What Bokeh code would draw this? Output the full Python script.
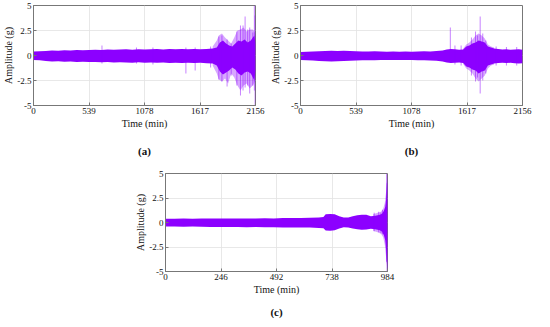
from bokeh.plotting import figure
from bokeh.layouts import column, row
from bokeh.models import Range1d, FixedTicker, Title, Spacer
from bokeh.embed import file_html
from bokeh.resources import INLINE

# ---------------- data ----------------
x_ticks_ab = [0, 539, 1078, 1617, 2156]
x_ticks_c = [0, 246, 492, 738, 984]
y_ticks = [-5, -2.5, 0, 2.5, 5]
y_tick_labels = ["-5", "-2.5", "0", "2.5", "5"]

# (a) envelope of the dense signal core
t_a = [0, 60, 120, 180, 240, 300, 360, 420, 480, 540, 600, 660, 720, 780, 840, 900,
       960, 1020, 1080, 1140, 1200, 1260, 1320, 1380, 1440, 1500, 1560, 1620, 1680,
       1740, 1780, 1810, 1840, 1870, 1900, 1930, 1960, 1990, 2020, 2050, 2080, 2110,
       2130, 2145, 2156]
hi_a = [0.40, 0.42, 0.45, 0.50, 0.48, 0.52, 0.50, 0.55, 0.52, 0.55, 0.58, 0.55, 0.60,
        0.58, 0.60, 0.62, 0.58, 0.62, 0.60, 0.62, 0.65, 0.60, 0.65, 0.62, 0.65, 0.62,
        0.66, 0.62, 0.65, 0.70, 0.80, 1.30, 1.50, 1.20, 1.00, 0.90, 1.20, 1.50, 1.40,
        1.60, 1.30, 1.50, 1.80, 2.00, 1.20]
lo_a = [-0.45, -0.48, -0.55, -0.60, -0.58, -0.62, -0.60, -0.65, -0.62, -0.66, -0.64,
        -0.68, -0.66, -0.70, -0.68, -0.70, -0.72, -0.68, -0.72, -0.70, -0.72, -0.70,
        -0.74, -0.72, -0.75, -0.72, -0.75, -0.72, -0.78, -0.80, -1.00, -1.60, -1.90,
        -1.70, -1.50, -1.20, -1.40, -1.80, -2.00, -1.70, -1.60, -1.80, -2.20, -2.50,
        -1.50]
# (a) lighter, sparse outer zone of the signal
outer_t_a = [1740, 1780, 1800, 1830, 1860, 1890, 1920, 1950, 1980, 2010, 2040, 2070,
             2100, 2130, 2156]
outer_hi_a = [0.9, 1.5, 2.0, 2.2, 1.8, 1.5, 1.2, 1.8, 2.5, 2.6, 2.8, 2.4, 2.6, 2.6, 2.2]
outer_lo_a = [-1.0, -1.8, -2.4, -2.6, -2.3, -2.8, -1.8, -2.2, -3.0, -3.5, -3.0, -2.8,
              -3.3, -3.0, -2.5]
spike_t_a = [665, 1000, 1160, 1480, 1570, 1720, 1800, 1830, 1880, 1920, 1975, 2010,
             2035, 2055, 2080, 2100, 2130, 2145, 2152]
spike_hi_a = [1.0, 0.8, 0.8, 0.8, 0.8, 0.9, 1.9, 2.0, 1.6, 1.2, 2.4, 3.0, 3.0, 3.9,
              2.6, 2.8, 2.3, 5.0, 4.0]
spike_lo_a = [-0.8, -0.8, -0.9, -1.8, -1.5, -1.2, -2.4, -2.6, -3.1, -2.0, -3.0, -4.0,
              -3.5, -3.2, -3.0, -3.8, -3.0, -3.5, -5.0]

# (b)
t_b = [0, 60, 120, 180, 240, 300, 360, 420, 480, 540, 600, 660, 720, 780, 840, 900,
       960, 1020, 1080, 1140, 1200, 1260, 1320, 1380, 1420, 1460, 1500, 1540, 1580,
       1610, 1640, 1670, 1700, 1730, 1760, 1790, 1820, 1850, 1880, 1920, 1960, 2000,
       2040, 2080, 2120, 2156]
hi_b = [0.35, 0.38, 0.40, 0.42, 0.45, 0.48, 0.45, 0.48, 0.45, 0.42, 0.40, 0.40, 0.42,
        0.40, 0.38, 0.40, 0.38, 0.40, 0.38, 0.40, 0.42, 0.40, 0.45, 0.50, 0.60, 0.65,
        0.62, 0.58, 0.60, 0.90, 1.00, 1.20, 1.30, 1.50, 1.40, 1.30, 0.90, 0.80, 0.70,
        0.65, 0.60, 0.62, 0.58, 0.60, 0.62, 0.58]
lo_b = [-0.45, -0.48, -0.50, -0.55, -0.58, -0.60, -0.58, -0.55, -0.52, -0.50, -0.48,
        -0.47, -0.48, -0.46, -0.45, -0.46, -0.45, -0.46, -0.45, -0.47, -0.48, -0.50,
        -0.52, -0.60, -0.70, -0.75, -0.72, -0.70, -0.75, -1.10, -1.20, -1.40, -1.50,
        -1.80, -1.60, -1.50, -1.00, -0.90, -0.80, -0.75, -0.72, -0.75, -0.72, -0.78,
        -0.80, -0.78]
outer_t_b = [1580, 1610, 1640, 1670, 1700, 1730, 1760, 1790, 1820, 1850, 1880]
outer_hi_b = [0.7, 1.1, 1.3, 1.6, 2.0, 2.2, 2.0, 1.7, 1.1, 0.9, 0.8]
outer_lo_b = [-0.85, -1.3, -1.5, -1.8, -2.3, -2.6, -2.3, -2.0, -1.3, -1.0, -0.9]
spike_t_b = [1455, 1500, 1560, 1660, 1700, 1720, 1745, 1770, 1800, 1900, 2000, 2100]
spike_hi_b = [2.8, 1.0, 1.0, 1.8, 2.4, 2.0, 3.9, 2.2, 1.5, 0.9, 0.85, 0.85]
spike_lo_b = [-0.6, -0.9, -1.0, -2.0, -2.6, -2.2, -3.8, -2.5, -1.8, -1.0, -1.0, -1.0]

# (c)
t_c = [0, 40, 80, 120, 160, 200, 240, 280, 320, 360, 400, 440, 480, 520, 560, 600,
       640, 680, 700, 710, 730, 750, 770, 790, 810, 830, 850, 870, 890, 910, 930,
       950, 960, 968, 974, 978, 981, 984]
hi_c = [0.38, 0.38, 0.40, 0.38, 0.40, 0.40, 0.42, 0.40, 0.42, 0.42, 0.42, 0.44, 0.42,
        0.45, 0.46, 0.46, 0.48, 0.50, 0.55, 0.85, 0.88, 0.85, 0.65, 0.50, 0.50, 0.65,
        0.75, 0.80, 0.78, 0.65, 0.70, 0.80, 0.90, 1.20, 1.60, 2.40, 3.50, 4.90]
lo_c = [-0.42, -0.42, -0.44, -0.42, -0.44, -0.45, -0.45, -0.46, -0.46, -0.48, -0.46,
        -0.48, -0.48, -0.50, -0.50, -0.52, -0.50, -0.55, -0.58, -0.82, -0.85, -0.80,
        -0.60, -0.48, -0.50, -0.62, -0.70, -0.75, -0.72, -0.65, -0.70, -0.80, -0.95,
        -1.30, -1.80, -2.80, -4.00, -4.90]
outer_t_c = [920, 940, 955, 965, 972, 978, 984]
outer_hi_c = [0.85, 1.0, 1.1, 1.4, 2.0, 3.2, 5.0]
outer_lo_c = [-0.85, -1.0, -1.15, -1.5, -2.3, -3.6, -5.0]
spike_t_c = [925, 945, 955, 962, 980, 982]
spike_hi_c = [1.0, 1.1, 1.0, 1.3, 5.0, 4.0]
spike_lo_c = [-0.9, -1.0, -1.1, -1.2, -4.0, -5.0]

PURPLE = "#8c00ff"
FONT = "Liberation Serif"


def make_panel(t, hi, lo, ot, ohi, olo, st, shi, slo, xmax, xticks, caption,
               width, height, cap_standoff):
    p = figure(width=width, height=height, output_backend="svg", toolbar_location=None,
               x_range=Range1d(0, xmax), y_range=Range1d(-5, 5),
               min_border_left=28, min_border_right=12, min_border_top=5,
               min_border_bottom=0)
    p.varea(x=ot, y1=olo, y2=ohi, fill_color=PURPLE, fill_alpha=0.35)
    p.varea(x=t, y1=lo, y2=hi, fill_color=PURPLE, fill_alpha=1.0)
    p.segment(x0=st, y0=slo, x1=st, y1=shi, line_color=PURPLE, line_width=0.9,
              line_alpha=0.55)
    p.outline_line_color = "#777777"
    p.outline_line_width = 1
    for ax in (p.xaxis[0], p.yaxis[0]):
        ax.axis_line_color = "#777777"
        ax.major_tick_line_color = "#777777"
        ax.major_tick_in = 3
        ax.major_tick_out = 0
        ax.minor_tick_line_color = None
        ax.major_label_text_font = FONT
        ax.major_label_text_font_size = "9px"
        ax.major_label_text_color = "#111111"
        ax.axis_label_text_font = FONT
        ax.axis_label_text_font_size = "10px"
        ax.axis_label_text_font_style = "normal"
        ax.axis_label_text_color = "#111111"
        ax.major_label_standoff = 2
    p.xaxis.ticker = FixedTicker(ticks=xticks)
    p.yaxis.ticker = FixedTicker(ticks=y_ticks)
    p.yaxis.major_label_overrides = {k: v for k, v in zip(y_ticks, y_tick_labels)}
    p.xaxis.axis_label = "Time (min)"
    p.yaxis.axis_label = "Amplitude (g)"
    p.xaxis.axis_label_standoff = 1
    p.yaxis.axis_label_standoff = 0
    p.xgrid.ticker = FixedTicker(ticks=xticks)
    p.ygrid.ticker = FixedTicker(ticks=y_ticks)
    p.grid.grid_line_color = "#e2e2e2"
    p.grid.grid_line_width = 0.8
    t_cap = Title(text=caption, align="center", text_font=FONT, text_font_size="11px",
                  text_font_style="bold", text_color="#111111", standoff=cap_standoff)
    p.add_layout(t_cap, "below")
    return p


pa = make_panel(t_a, hi_a, lo_a, outer_t_a, outer_hi_a, outer_lo_a,
                spike_t_a, spike_hi_a, spike_lo_a, 2156, x_ticks_ab, "(a)", 267, 168, 23)
pb = make_panel(t_b, hi_b, lo_b, outer_t_b, outer_hi_b, outer_lo_b,
                spike_t_b, spike_hi_b, spike_lo_b, 2156, x_ticks_ab, "(b)", 267, 168, 23)
pc = make_panel(t_c, hi_c, lo_c, outer_t_c, outer_hi_c, outer_lo_c,
                spike_t_c, spike_hi_c, spike_lo_c, 984, x_ticks_c, "(c)", 267, 156, 13)

layout = column(row(pa, pb), row(Spacer(width=132, height=10), pc))

open("out.html", "w").write(file_html(layout, INLINE))
